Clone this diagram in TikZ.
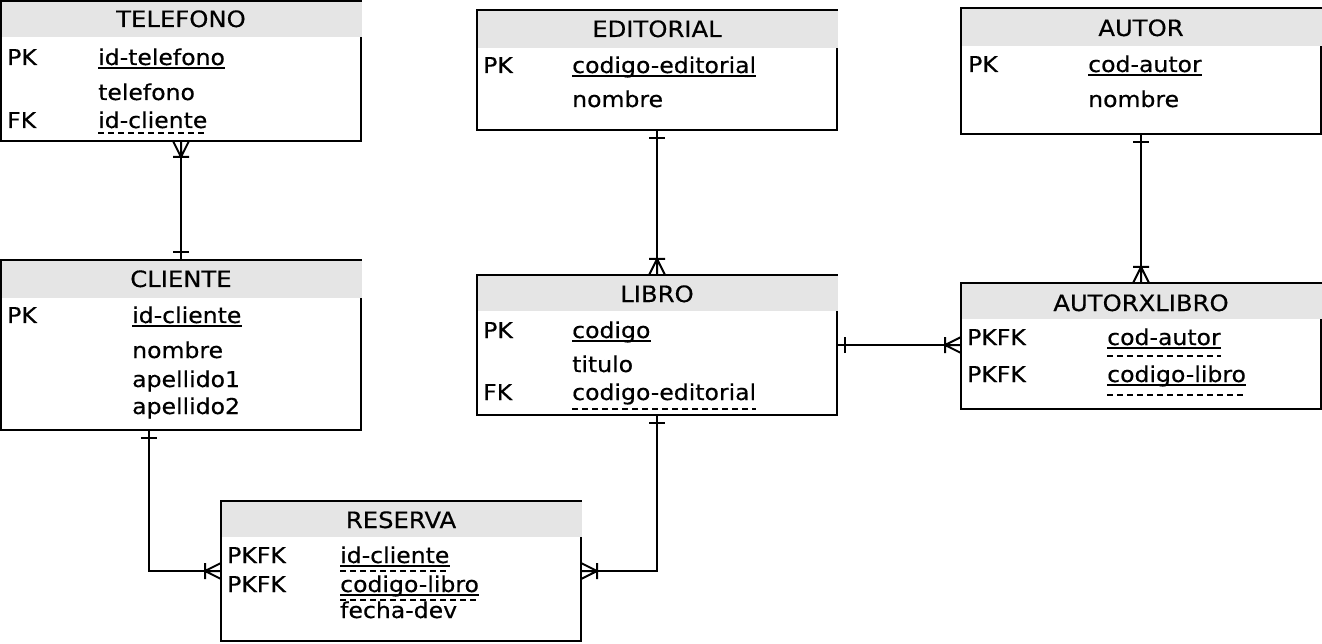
\documentclass[tikz,border=0pt]{standalone}
\usepackage{fontspec}
\setmainfont[FakeStretch=1.08,FakeBold=0.4]{DejaVu Sans}
\usetikzlibrary{calc}
\definecolor{hdr}{RGB}{229,229,229}
\tikzset{
 tblbox/.style={draw=black, line width=2pt, inner sep=0pt, outer sep=0pt, fill=white},
 hdrfill/.style={fill=hdr},
 ttl/.style={font=\fontsize{22.5}{26}\selectfont, inner sep=0pt, anchor=base},
 fld/.style={font=\fontsize{21.8}{26}\selectfont, inner sep=0pt, anchor=base west},
 uline/.style={line width=1.6pt},
 dline/.style={line width=1.8pt, dash pattern=on 6pt off 4pt},
 conn/.style={line width=2pt},
 tipline/.style={line width=2pt},
}
\newcommand\ertable[8]{%
 \node[tblbox, minimum width={#4-#2}, minimum height={#5-#3}] (#1) at ({(#2+#4)/2},{(#3+#5)/2}) {};
 \fill[hdrfill] (#2+1,#3+1) rectangle (#4+1,#6);
 \node[ttl] (#1-title) at ({(#2+#4)/2},#7) {#8};
}
\newcommand\sul[1]{\draw[uline] ([yshift=-3pt]#1.base west) -- ([yshift=-3pt]#1.base east);}
\newcommand\dul[2]{\draw[dline] ([yshift=-#2pt]#1.base west) -- ([yshift=-#2pt]#1.base east);}
\newcommand\crowfoot[2]{\draw[tipline,shift={(#1)},rotate=#2] (0,8) -- (16,0) -- (0,-8) (0,0) -- (16,0) (16,8) -- (16,-8);}
\newcommand\onebar[2]{\draw[tipline,shift={(#1)},rotate=#2] (8,8) -- (8,-8);}
\begin{document}
\begin{tikzpicture}[x=1pt,y=-1pt]
\useasboundingbox (0,0) rectangle (1322,644);
\fill[white] (0,0) rectangle (1322,644);

% tables
\ertable{tel}{1}{1}{361}{141}{37}{27}{TELEFONO}
\node[fld] (tel-k1) at (7,65) {PK};
\node[fld] (tel-a1) at (98,65) {id-telefono}; \sul{tel-a1}
\node[fld] (tel-a2) at (98,100) {telefono};
\node[fld] (tel-k3) at (7,128) {FK};
\node[fld] (tel-a3) at (98,128) {id-cliente}; \dul{tel-a3}{5}

\ertable{edi}{477}{10}{837}{130}{48}{37}{EDITORIAL}
\node[fld] (edi-k1) at (483,73) {PK};
\node[fld] (edi-a1) at (572,73) {codigo-editorial}; \sul{edi-a1}
\node[fld] (edi-a2) at (572,107) {nombre};

\ertable{aut}{961}{8}{1321}{134}{46}{36}{AUTOR}
\node[fld] (aut-k1) at (968,72) {PK};
\node[fld] (aut-a1) at (1088,72) {cod-autor}; \sul{aut-a1}
\node[fld] (aut-a2) at (1088,107) {nombre};

\ertable{cli}{1}{260}{361}{430}{298}{287}{CLIENTE}
\node[fld] (cli-k1) at (7,323) {PK};
\node[fld] (cli-a1) at (132,323) {id-cliente}; \sul{cli-a1}
\node[fld] (cli-a2) at (132,358) {nombre};
\node[fld] (cli-a3) at (132,387) {apellido1};
\node[fld] (cli-a4) at (132,414) {apellido2};

\ertable{lib}{477}{275}{837}{415}{311}{302}{LIBRO}
\node[fld] (lib-k1) at (483,338) {PK};
\node[fld] (lib-a1) at (572,338) {codigo}; \sul{lib-a1}
\node[fld] (lib-a2) at (572,372) {titulo};
\node[fld] (lib-k3) at (483,400) {FK};
\node[fld] (lib-a3) at (572,400) {codigo-editorial}; \dul{lib-a3}{9}

\ertable{axl}{961}{283}{1321}{409}{319}{311}{AUTORXLIBRO}
\node[fld] (axl-k1) at (967,345) {PKFK};
\node[fld] (axl-a1) at (1107,345) {cod-autor}; \sul{axl-a1} \dul{axl-a1}{11}
\node[fld] (axl-k2) at (967,382) {PKFK};
\node[fld] (axl-a2) at (1107,382) {codigo-libro}; \sul{axl-a2} \dul{axl-a2}{13}

\ertable{res}{221}{501}{581}{641}{537}{528}{RESERVA}
\node[fld] (res-k1) at (227,563) {PKFK};
\node[fld] (res-a1) at (340,563) {id-cliente}; \sul{res-a1} \dul{res-a1}{8}
\node[fld] (res-k2) at (227,592) {PKFK};
\node[fld] (res-a2) at (340,592) {codigo-libro}; \sul{res-a2} \dul{res-a2}{8}
\node[fld] (res-a3) at (340,618) {fecha-dev};

% connectors
\draw[conn] (tel.south) -- (cli.north);
\draw[conn] (edi.south) -- (lib.north);
\draw[conn] (aut.south) -- (axl.north);
\draw[conn] (lib.east) -- (lib.east -| axl.west);
\coordinate (cliout) at ([xshift=-32pt]cli.south);
\draw[conn] (cliout) |- (res.west);
\draw[conn] (lib.south) |- (res.east);

% end marks
\crowfoot{tel.south}{-90}
\onebar{cli.north}{90}
\onebar{edi.south}{-90}
\crowfoot{lib.north}{90}
\onebar{aut.south}{-90}
\crowfoot{axl.north}{90}
\onebar{lib.east}{0}
\crowfoot{lib.east -| axl.west}{180}
\onebar{cliout}{-90}
\crowfoot{res.west}{180}
\onebar{lib.south}{-90}
\crowfoot{res.east}{0}
\end{tikzpicture}
\end{document}
